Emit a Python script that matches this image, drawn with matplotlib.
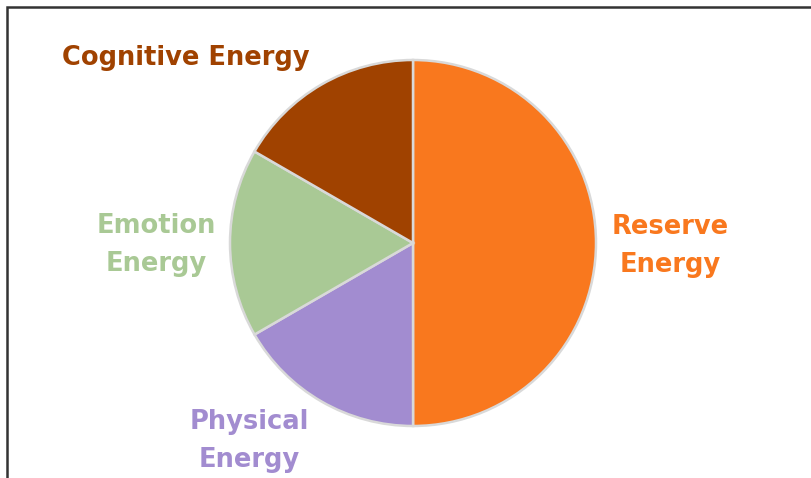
import matplotlib
matplotlib.use('Agg')
import matplotlib.pyplot as plt
from matplotlib.patches import Rectangle

# data
labels = ['Reserve\nEnergy', 'Physical\nEnergy', 'Emotion\nEnergy', 'Cognitive Energy']
shares = [50, 16.67, 16.67, 16.67]
colors = ['#F9781E', '#A28CD0', '#A9C995', '#A04200']

W, H = 811, 478
fig = plt.figure(figsize=(W / 100, H / 100), dpi=100)

# frame round the chart (runs off the right and bottom edge)
fig.patches.append(Rectangle((7 / W, -0.1), 2, 1 - 7.5 / H + 0.1, transform=fig.transFigure,
                             fill=False, edgecolor='#333333', linewidth=1.8))

cx, cy, r = 413, 243, 183
ax = fig.add_axes([(cx - r) / W, (H - cy - r) / H, 2 * r / W, 2 * r / H])
wedges, _ = ax.pie(shares, colors=colors, startangle=90, counterclock=False,
                   wedgeprops=dict(edgecolor='#d9d9d9', linewidth=1.8))
ax.set_xlim(-1, 1)
ax.set_ylim(-1, 1)
ax.set_aspect('equal')
ax.axis('off')

# label positions in pixels
label_pos = [(670, 246), (249, 441), (156, 245), (186, 58)]
for lab, col, (px, py) in zip(labels, colors, label_pos):
    fig.text(px / W, 1 - py / H, lab, color=col, ha='center', va='center',
             fontsize=18.5, fontweight='bold', family='DejaVu Sans', linespacing=1.6)

fig.savefig('out.png', dpi=100)
